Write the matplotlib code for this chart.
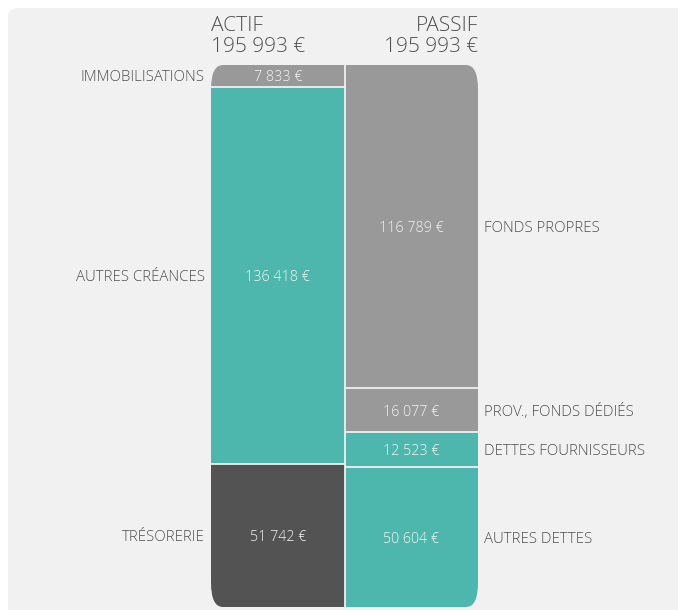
import matplotlib.pyplot as plt
from matplotlib.patches import FancyBboxPatch
import numpy as np

# data
actif_labels = ['IMMOBILISATIONS', 'AUTRES CRÉANCES', 'TRÉSORERIE']
actif_values = [7833, 136418, 51742]
actif_colors = ['#999999', '#4db7ad', '#535353']

passif_labels = ['FONDS PROPRES', 'PROV., FONDS DÉDIÉS', 'DETTES FOURNISSEURS', 'AUTRES DETTES']
passif_values = [116789, 16077, 12523, 50604]
passif_colors = ['#999999', '#999999', '#4db7ad', '#4db7ad']

titles = ['ACTIF', 'PASSIF']

plt.rcParams['font.family'] = ['Open Sans', 'DejaVu Sans']


def fmt(v):
    return '{:,}'.format(v).replace(',', ' ') + ' €'


W, H = 678, 610
fig = plt.figure(figsize=(W / 100, H / 100), dpi=100)
fig.patch.set_facecolor('white')

# grey panel
panel = FancyBboxPatch((8 / W, -0.05), 1.2, 1.05 - 8 / H,
                       boxstyle='round,pad=0,rounding_size=0.015',
                       transform=fig.transFigure, facecolor='#f1f1f1',
                       edgecolor='none', zorder=-5)
fig.patches.append(panel)

ax = fig.add_axes([211 / W, 3 / H, (478 - 211) / W, (607 - 65) / H])
ax.set_zorder(2)
ax.set_facecolor('none')
total = sum(actif_values)
ax.set_xlim(-0.5, 1.5)
ax.set_ylim(total, 0)
ax.axis('off')

clip = FancyBboxPatch((0, 0), 1, 1, boxstyle='round,pad=0,rounding_size=0.045',
                      transform=ax.transAxes, facecolor='none', edgecolor='none')
ax.add_patch(clip)
clip.set_visible(False)

label_color = '#505050'
value_color = '#f4f4f4'


def draw_column(x, values, colors, labels, side):
    bottoms = np.concatenate([[0], np.cumsum(values)[:-1]])
    bars = ax.bar([x] * len(values), values, bottom=bottoms, width=1.0,
                  color=colors, edgecolor='none', zorder=2)
    for b in bars:
        b.set_clip_path(clip)
    # separators
    for y in np.cumsum(values)[:-1]:
        ax.plot([x - 0.5, x + 0.5], [y, y], color='#f0f0f0', lw=1.3, zorder=3,
                solid_capstyle='butt')
    for b0, v, lab in zip(bottoms, values, labels):
        c = b0 + v / 2
        ax.text(x, c, fmt(v), ha='center', va='center_baseline', color=value_color,
                fontsize=10.3, fontweight='light', zorder=4)
        if side == 'left':
            ax.annotate(lab, (x - 0.5, c), xytext=(-4.5, 0), textcoords='offset points',
                        ha='right', va='center_baseline', color=label_color,
                        fontsize=10.8, fontweight='light')
        else:
            ax.annotate(lab, (x + 0.5, c), xytext=(4, 0), textcoords='offset points',
                        ha='left', va='center_baseline', color=label_color,
                        fontsize=10.8, fontweight='light')


draw_column(0, actif_values, actif_colors, actif_labels, 'left')
draw_column(1, passif_values, passif_colors, passif_labels, 'right')

# vertical separator between columns
ax.plot([0.5, 0.5], [0, total], color='#f0f0f0', lw=1.3, zorder=3)

# headers
ax.annotate(titles[0] + '\n' + fmt(sum(actif_values)), (-0.5, 0), xytext=(0, 6),
            textcoords='offset points', ha='left', va='bottom', color='#505050',
            fontsize=15, fontweight='light', linespacing=1.05)
ax.annotate(titles[1] + '\n' + fmt(sum(passif_values)), (1.5, 0), xytext=(0, 6),
            textcoords='offset points', ha='right', va='bottom', color='#505050',
            fontsize=15, fontweight='light', linespacing=1.05, multialignment='right')

fig.savefig('out.png', dpi=100, facecolor=fig.get_facecolor())
